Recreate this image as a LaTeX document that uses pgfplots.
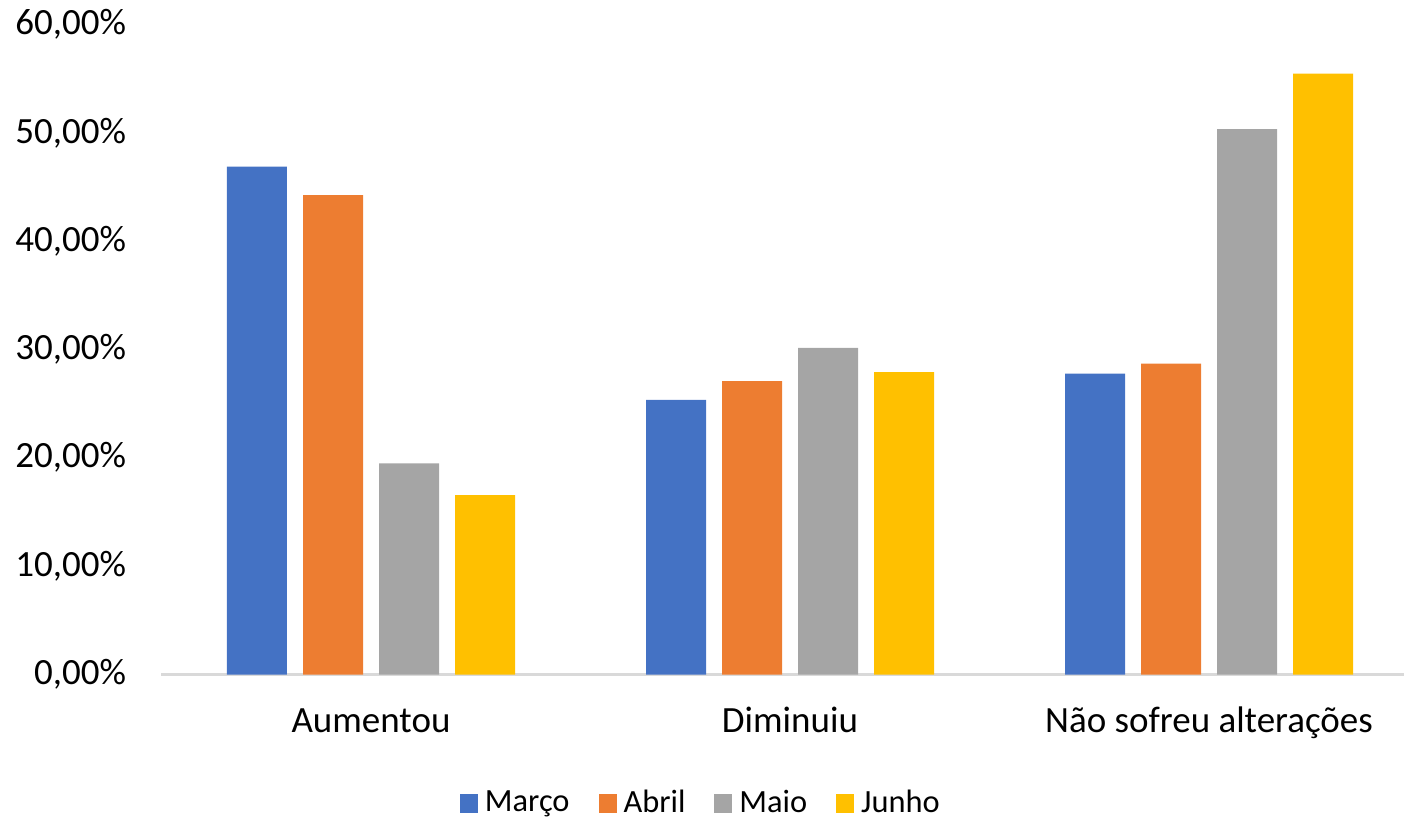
\documentclass[border=0pt]{standalone}
\usepackage{pgfplots}
\pgfplotsset{compat=1.18}
\usepackage{fontspec}
\setmainfont{Carlito}
\definecolor{cMar}{HTML}{4472C4}
\definecolor{cAbr}{HTML}{ED7D31}
\definecolor{cMai}{HTML}{A5A5A5}
\definecolor{cJun}{HTML}{FFC000}
\definecolor{axgray}{HTML}{D9D9D9}
\begin{document}
\fontsize{18.5}{22}\selectfont
\begin{tikzpicture}
\begin{axis}[
  at={(0,0)}, anchor=south west,
  width=621.25pt, height=324.9pt, scale only axis,
  ybar=8pt, bar width=30pt,
  xmin=-0.5, xmax=2.4654, ymin=0, ymax=60,
  axis lines*=left,
  y axis line style={draw=none},
  x axis line style={draw=axgray, line width=1.3pt},
  major tick length=0pt,
  xtick={0,1,2},
  xticklabels={Aumentou,Diminuiu,{Não sofreu alterações}},
  ytick={0,10,20,30,40,50,60},
  yticklabels={{0,00\%},{10,00\%},{20,00\%},{30,00\%},{40,00\%},{50,00\%},{60,00\%}},
  tick label style={font=\fontsize{18.5}{22}\selectfont, text=black},
  xticklabel style={anchor=base, inner sep=0pt, yshift=-28.75pt},
  yticklabel style={anchor=base east, inner sep=0pt, xshift=-17.5pt, yshift=-5pt},
  legend columns=4,
  legend style={draw=none, fill=none, at={(0.2402,-0.1997)}, anchor=west,
    inner sep=0pt, outer sep=0pt, nodes={inner sep=0pt},
    font=\fontsize{16.2}{19}\selectfont,
    /tikz/every odd column/.style={column sep=3.5pt},
    /tikz/every even column/.style={column sep=14.5pt}},
  every axis plot post/.append style={draw=none,
    legend image code/.code={\fill[##1] (0pt,-4.5pt) rectangle (9pt,5.2pt);}},
]
\addplot[fill=cMar] coordinates {(0,46.89) (1,25.35) (2,27.79)};
\addplot[fill=cAbr] coordinates {(0,44.27) (1,27.10) (2,28.71)};
\addplot[fill=cMai] coordinates {(0,19.50) (1,30.15) (2,50.37)};
\addplot[fill=cJun] coordinates {(0,16.57) (1,27.93) (2,55.48)};
\legend{Março,Abril,Maio,Junho}
\end{axis}
\pgfresetboundingbox
\path[use as bounding box] (-80.75pt,-73.25pt) rectangle (621.25pt,337.25pt);
\end{tikzpicture}
\end{document}
